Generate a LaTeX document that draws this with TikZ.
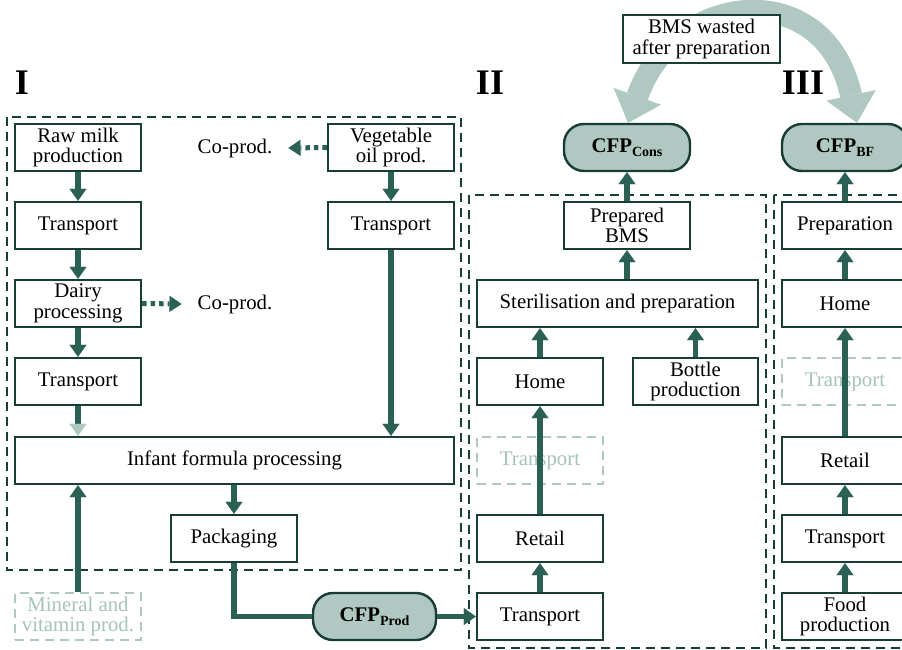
\documentclass[tikz,border=0pt]{standalone}
\usepackage{fontspec}
\setmainfont{Liberation Serif}
\usetikzlibrary{arrows.meta}
\definecolor{bordc}{HTML}{173D35}
\definecolor{arrc}{HTML}{2B6155}
\definecolor{lightc}{HTML}{AFC8C2}
\definecolor{lighttxt}{HTML}{A6C3BC}
\newcommand{\cfplabel}[1]{\textbf{CFP}\raisebox{-4pt}{\fontsize{14}{14}\selectfont\bfseries #1}}
\begin{document}
\begin{tikzpicture}[x=1pt,y=-1pt,
  every node/.style={font=\fontsize{20.8}{20.5}\selectfont},
  box/.style={draw=bordc, line width=2.4pt, fill=white, minimum width=126pt, minimum height=47pt, align=center, inner sep=0pt},
  ghost/.style={box, draw=lightc, text=lighttxt, dash pattern=on 9pt off 6pt},
  cfp/.style={box, fill=lightc, rounded corners=20pt},
  arr/.style={draw=arrc, line width=5.5pt, -{Triangle[length=12pt,width=17pt,line width=0.01pt]}},
  lightarr/.style={draw=arrc, line width=5.5pt, -{Triangle[length=12pt,width=17pt,line width=0.01pt,color=lightc]}},
  plainline/.style={draw=arrc, line width=5.5pt},
  dotarr/.style={draw=arrc, line width=5pt, dash pattern=on 4.5pt off 4pt, -{Triangle[length=12pt,width=16pt,line width=0.01pt]}},
  region/.style={draw=bordc, line width=2.4pt, dash pattern=on 9pt off 6pt},
  bigarc/.style={draw=lightc, line width=22pt, {Triangle[length=28pt,width=50pt,line width=0.01pt]}-{Triangle[length=28pt,width=50pt,line width=0.01pt]}},
  sec/.style={font=\fontsize{36}{36}\selectfont\bfseries, anchor=base, inner sep=0pt},
  plain/.style={inner sep=0pt}
]
\useasboundingbox (0,0) rectangle (902,650);
\clip (0,0) rectangle (902,650);

% regions
\draw[region] (7,117) rectangle (461,570);
\draw[region] (469,195) rectangle (766,648);
\draw[region] (774,195) rectangle (930,648);

% section I
\node[box] (rm) at (78,147.5) {Raw milk\\production};
\node[box] (t1) at (78,225.5) {Transport};
\node[box] (dp) at (78,303.5) {Dairy\\processing};
\node[box] (t2) at (78,381.5) {Transport};
\node[box, minimum width=439pt] (inf) at (234.5,460.5) {Infant formula processing};
\node[box] (pkg) at (234,538.5) {Packaging};
\node[box] (veg) at (391,147.5) {Vegetable\\oil prod.};
\node[box] (vt) at (391,225.5) {Transport};
\node[ghost] (min) at (78,616.5) {Mineral and\\vitamin prod.};
\node[plain] (co1) at (235,148) {Co-prod.};
\node[plain] (co2) at (235,304) {Co-prod.};
\node[cfp, minimum width=123pt] (cfpP) at (374.5,616.5) {\cfplabel{Prod}};

% section II
\node[box] (t3) at (540,616.5) {Transport};
\node[box] (ret) at (540,538.5) {Retail};
\node[ghost] (lt) at (540,460.5) {Transport};
\node[box] (home) at (540,381.5) {Home};
\node[box, minimum width=125pt] (bot) at (695.5,381.5) {Bottle\\production};
\node[box, minimum width=281pt] (ster) at (617.5,303.5) {Sterilisation and preparation};
\node[box] (prep) at (627,225.5) {Prepared\\BMS};
\node[cfp] (cfpC) at (627,147.5) {\cfplabel{Cons}};

% section III
\node[box] (prp) at (845,225.5) {Preparation};
\node[box] (home3) at (845,303.5) {Home};
\node[ghost] (lt3) at (845,381.5) {Transport};
\node[box] (ret3) at (845,460.5) {Retail};
\node[box] (t5) at (845,538.5) {Transport};
\node[box] (food) at (845,616.5) {Food\\production};
\node[cfp] (cfpB) at (845,147.5) {\cfplabel{BF}};

% big curved arrow
\draw[bigarc] ([xshift=1pt]cfpC.north) .. controls (675,-10) and (825,-25) .. ([xshift=12pt]cfpB.north);
\node[box, minimum width=157pt, minimum height=48pt] (bms) at (701.5,39) {BMS wasted\\after preparation};

% section labels
\node[sec] (lI) at (22,95) {I};
\node[sec] (lII) at (490,95) {II};
\node[sec] (lIII) at (803,95) {III};

% arrows section I
\draw[arr] (rm) -- (t1);
\draw[arr] (t1) -- (dp);
\draw[arr] (dp) -- (t2);
\draw[lightarr] (t2) -- (t2 |- inf.north);
\draw[arr] (veg) -- (vt);
\draw[arr] (vt) -- (vt |- inf.north);
\draw[arr] (inf.south -| pkg) -- (pkg);
\draw[arr] (min) -- (min |- inf.south);
\draw[dotarr] (veg.west) -- ([xshift=16pt]co1.east);
\draw[dotarr] (dp.east) -- ([xshift=-16pt]co2.west);
\draw[plainline] (pkg.south) |- (cfpP.west);
\draw[arr] (cfpP.east) -- (t3.west);

% arrows section II
\draw[arr] (t3) -- (ret);
\draw[arr] (ret) -- (home);
\draw[arr] (home) -- (home |- ster.south);
\draw[arr] (bot) -- (bot |- ster.south);
\draw[arr] (ster.north -| prep) -- (prep);
\draw[arr] (prep) -- (cfpC);

% arrows section III
\draw[arr] (food) -- (t5);
\draw[arr] (t5) -- (ret3);
\draw[arr] (ret3) -- (home3);
\draw[arr] (home3) -- (prp);
\draw[arr] (prp) -- (cfpB);
\end{tikzpicture}
\end{document}
